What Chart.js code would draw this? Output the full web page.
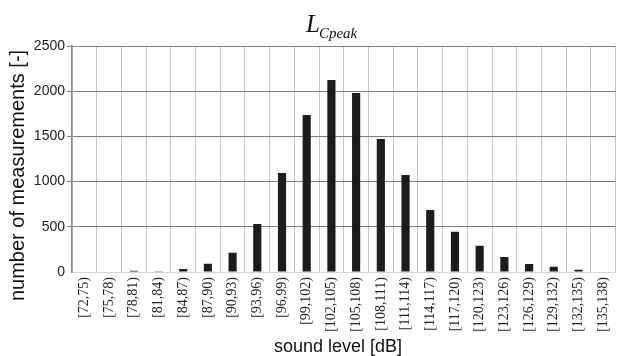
<!DOCTYPE html>
<html>
<head>
<meta charset="utf-8">
<script src="https://cdn.jsdelivr.net/npm/chart.js@4.4.1/dist/chart.umd.min.js"></script>
<style>
html,body{margin:0;padding:0;background:#fff;overflow:hidden;}
#wrap{width:625px;height:356px;}
</style>
</head>
<body>
<div id="wrap"><canvas id="c" width="625" height="356"></canvas></div>
<script>
const categories = ["[72,75)","[75,78)","[78,81)","[81,84)","[84,87)","[87,90)","[90,93)","[93,96)","[96,99)","[99,102)","[102,105)","[105,108)","[108,111)","[111,114)","[114,117)","[117,120)","[120,123)","[123,126)","[126,129)","[129,132)","[132,135)","[135,138)"];
const measurements = [0,0,15,8,33,92,214,531,1095,1737,2124,1980,1471,1073,686,446,291,166,88,59,25,0];
const yTicks = [0,500,1000,1500,2000,2500];

const texts = {
  id:'texts',
  afterDraw(chart){
    const ctx = chart.ctx;
    ctx.save();
    ctx.fillStyle = '#111';
    ctx.textBaseline = 'alphabetic';
    ctx.textAlign = 'left';
    ctx.font = 'italic 25px "Liberation Serif"';
    const lx = 306, ly = 32;
    ctx.fillText('L', lx, ly);
    const lw = ctx.measureText('L').width;
    ctx.font = 'italic 15px "Liberation Serif"';
    ctx.fillText('Cpeak', lx + lw - 1, ly + 6);
    ctx.font = '18px "Liberation Sans"';
    ctx.textAlign = 'center';
    ctx.fillText('sound level [dB]', 338, 352);
    ctx.translate(23.5, 175.5);
    ctx.rotate(-Math.PI/2);
    ctx.font = '20px "Liberation Sans"';
    ctx.fillText('number of measurements [-]', 0, 0);
    ctx.restore();
  }
};

new Chart(document.getElementById('c'), {
  type:'bar',
  data:{
    labels: categories,
    datasets:[{data: measurements, backgroundColor:'#1c1c1c', borderWidth:0, barPercentage:0.33, categoryPercentage:1}]
  },
  options:{
    responsive:false,
    animation:false,
    devicePixelRatio:1,
    layout:{padding:{top:46,left:0,right:0,bottom:0}},
    plugins:{legend:{display:false}, title:{display:false}, tooltip:{enabled:false}},
    scales:{
      x:{
        offset:true,
        grid:{color:'#c4c4c4', lineWidth:1, drawTicks:false, offset:true},
        border:{color:'#d6d6d6'},
        ticks:{font:{family:'Liberation Serif', size:14}, color:'#222', minRotation:90, maxRotation:90, padding:5, autoSkip:false},
        afterFit(s){ s.height = 84; }
      },
      y:{
        min:0, max:2500,
        afterBuildTicks(s){ s.ticks = yTicks.map(v=>({value:v})); },
        grid:{color:(c)=> c.tick && c.tick.value===0 ? 'rgba(0,0,0,0)' : '#7e7e7e', tickLength:5, lineWidth:1},
        border:{color:'#8a8a8a', width:1.5},
        ticks:{font:{family:'Liberation Sans', size:14}, color:'#222', padding:2, callback:(v)=>String(v)},
        afterFit(s){ s.width = 72; }
      }
    }
  },
  plugins:[texts]
});
</script>
</body>
</html>
